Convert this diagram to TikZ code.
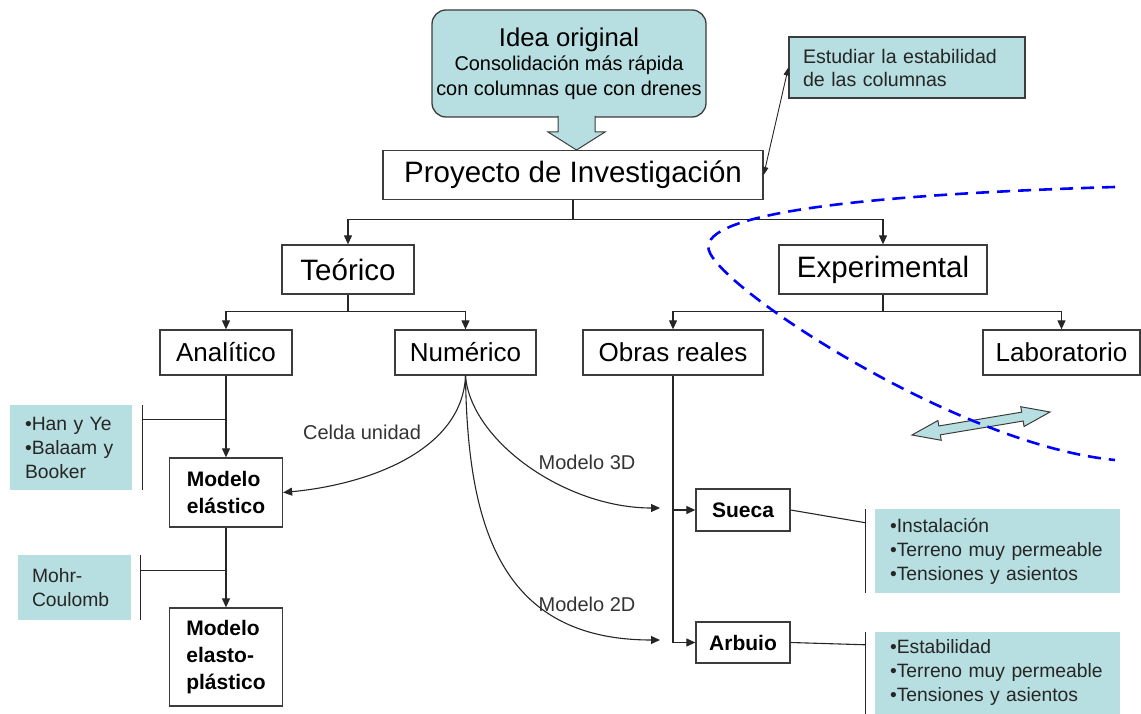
\documentclass[tikz,border=0pt]{standalone}
\usepackage{fontspec}
\setmainfont{Liberation Sans}
\usetikzlibrary{arrows.meta}
\definecolor{aqua}{RGB}{183,222,224}
\definecolor{edgegray}{RGB}{60,60,60}
\begin{document}
\begin{tikzpicture}
[
 x=1pt, y=-1pt,
 inner sep=0pt,
 BOX/.style={rectangle, draw=edgegray, fill=white, line width=1.3pt, minimum height=45pt, font=\fontsize{26}{30}\selectfont},
 BIGBOX/.style={BOX, minimum height=49pt, font=\fontsize{29.5}{34}\selectfont},
 MODBOX/.style={BOX, align=left, minimum width=113pt, font=\fontsize{21}{27}\selectfont\bfseries},
 IDEABOX/.style={rectangle, rounded corners=14pt, draw=edgegray, fill=aqua, line width=1.3pt, align=center, font=\fontsize{19.9}{24.5}\selectfont},
 INFO/.style={rectangle, fill=aqua, align=left, text=black!85, inner xsep=15pt, font=\fontsize{19.3}{24}\selectfont},
 LABEL/.style={text=black!80, font=\fontsize{20}{24}\selectfont},
 LINE/.style={draw=black!85, line width=1.1pt},
 ARR/.style={LINE, -{Triangle[length=9pt,width=8pt]}},
 DARR/.style={LINE, line width=0.9pt, {Triangle[length=8pt,width=6pt]}-{Triangle[length=8pt,width=6pt]}},
 BLOCK/.style={fill=aqua, draw=edgegray, line width=1pt},
 DASHBLUE/.style={draw=blue, line width=2.6pt, dash pattern=on 13pt off 8pt},
]
\useasboundingbox (0,0) rectangle (1141,714);
%
\node [IDEABOX, minimum width=274pt, minimum height=107pt] (IO) at (569,63.5)
  {{\fontsize{25.7}{28}\selectfont Idea original}\\Consolidación más rápida\\con columnas que con drenes};
\node [INFO, draw=edgegray, line width=1.3pt, inner xsep=14pt, text width=208pt, minimum height=61pt,
  font=\fontsize{19.6}{23}\selectfont] (EE) at (907,67.5) {Estudiar la estabilidad\\de las columnas};
%
\node [BIGBOX, minimum width=380pt] (PI) at (573,175) {Proyecto de Investigación};
\node [BIGBOX, minimum width=132pt] (TE) at (348,269.5) {Teórico};
\node [BIGBOX, minimum width=208pt] (EX) at (883,269.5) {Experimental};
%
\node [BOX, minimum width=132pt] (AN) at (226,352.5) {Analítico};
\node [BOX, minimum width=141pt] (NU) at (465.5,352.5) {Numérico};
\node [BOX, minimum width=180pt] (OR) at (673,352.5) {Obras reales};
\node [BOX, minimum width=157pt] (LA) at (1061.5,352.5) {Laboratorio};
%
\node [MODBOX, minimum height=69pt] (ME) at (226,492.5) {Modelo\\elástico};
\node [MODBOX, minimum height=98pt] (MP) at (226,657) {Modelo\\elasto-\\plástico};
\node [MODBOX, minimum width=94pt, minimum height=42pt, align=center] (SU) at (743,510) {Sueca};
\node [MODBOX, minimum width=94pt, minimum height=41pt, align=center] (AR) at (743,642.5) {Arbuio};
%
\node [INFO, text width=92pt, minimum height=85pt] (HY) at (71,447.5) {•Han y Ye\\•Balaam y\\Booker};
\node [INFO, inner xsep=14pt, text width=85pt, minimum height=65pt] (MC) at (74.5,587.5) {Mohr-\\Coulomb};
\node [INFO, text width=215pt, minimum height=84pt] (SI) at (997.5,551) {•Instalación\\•Terreno muy permeable\\•Tensiones y asientos};
\node [INFO, text width=215pt, minimum height=82pt] (AI) at (997.5,673) {•Estabilidad\\•Terreno muy permeable\\•Tensiones y asientos};
%
\node [LABEL] (CU) at (362,432) {Celda unidad};
\node [LABEL] (L3) at (587,462) {Modelo 3D};
\node [LABEL] (L2) at (587,604) {Modelo 2D};
%
\draw [BLOCK] (558,116) -- (558,132) -- (548,132) -- (576.5,150) -- (605,132) -- (595,132) -- (595,116);
\draw [DARR] (EE.west) -- (PI.east);
%
\draw [LINE] (PI.south) -- ++(0,19) coordinate (PJ);
\draw [ARR]  (PJ) -| (TE.north);
\draw [ARR]  (PJ) -| (EX.north);
%
\draw [LINE] (TE.south) -- ++(0,17) coordinate (TJ);
\draw [ARR]  (TJ) -| (AN.north);
\draw [ARR]  (TJ) -| (NU.north);
%
\draw [LINE] (EX.south) -- ++(0,17) coordinate (XJ);
\draw [ARR]  (XJ) -| (OR.north);
\draw [ARR]  (XJ) -| (LA.north);
%
\draw [ARR]  (AN.south) -- (ME.north);
\draw [ARR]  (ME.south) -- (MP.north);
\draw [ARR]  (OR.south) |- (SU.west);
\draw [ARR]  (OR.south) |- (AR.west);
%
\coordinate (M3) at (660,508);
\coordinate (M2) at (660,640);
\draw [ARR]  (NU.south) .. controls +(-3,75) and +(85,-8) .. (ME.east);
\draw [ARR]  (NU.south) .. controls +(5,65) and +(-95,0) .. (M3);
\draw [ARR]  (NU.south) .. controls +(2,150) and +(-160,0) .. (M2);
%
\draw [LINE] ([xshift=10pt]HY.north east) -- ([xshift=10pt]HY.south east);
\coordinate (HJ) at ([shift={(10,15)}]HY.north east);
\draw [LINE] (HJ) -- (HJ -| AN.south);
\draw [LINE] ([xshift=9pt]MC.north east) -- ([xshift=9pt]MC.south east);
\coordinate (MJ) at ([shift={(9,16)}]MC.north east);
\draw [LINE] (MJ) -- (MJ -| ME.south);
%
\draw [LINE] ([xshift=-9pt]SI.north west) -- ([xshift=-9pt]SI.south west);
\draw [LINE] (SU.east) -- ([shift={(-9,14)}]SI.north west);
\draw [LINE] ([xshift=-9pt]AI.north west) -- ([xshift=-9pt]AI.south west);
\draw [LINE] (AR.east) -- ([shift={(-9,13)}]AI.north west);
%
\begin{scope}[shift={(981,423.5)}, rotate=9.46]
\draw [BLOCK] (-70,0) -- (-42,10) -- (-42,4.5) -- (42,4.5) -- (42,10) -- (70,0)
   -- (42,-10) -- (42,-4.5) -- (-42,-4.5) -- (-42,-10) -- cycle;
\end{scope}
\draw [DASHBLUE] (1115,187) .. controls (850,195) and (690,215) .. (710,253)
   .. controls (730,295) and (960,445) .. (1115,460);
%
\end{tikzpicture}
\end{document}
